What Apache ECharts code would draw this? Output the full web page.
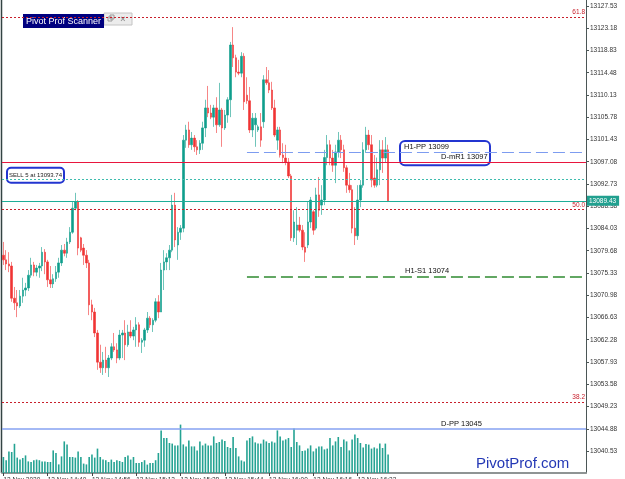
<!DOCTYPE html>
<html>
<head>
<meta charset="utf-8">
<title>Pivot Prof Scanner</title>
<script src="https://cdn.jsdelivr.net/npm/echarts@6/dist/echarts.min.js"></script>
<style>
  html, body { margin: 0; padding: 0; background: #fff; }
  #chart { width: 625px; height: 479px; }
</style>
</head>
<body>
<div id="chart"></div>
<script>
'use strict';

// ---- price data (1 min bars) ----
const opens = [
    13078.8, 13077.9, 13077.1, 13076.7, 13070.4, 13069.5, 13068.9, 13070.8, 13072.0, 13072.4,
    13074.9, 13076.9, 13075.5, 13076.3, 13076.7, 13079.4, 13077.5, 13074.0, 13073.2, 13074.2,
    13075.5, 13077.3, 13079.8, 13079.2, 13081.4, 13083.3, 13088.0, 13089.2, 13082.2, 13080.2,
    13078.8, 13077.3, 13069.1, 13067.7, 13063.6, 13057.9, 13056.8, 13058.3, 13056.8, 13058.7,
    13060.9, 13060.3, 13058.7, 13063.2, 13063.6, 13061.3, 13063.8, 13063.0, 13064.2, 13065.2,
    13061.8, 13062.2, 13064.2, 13066.5, 13065.2, 13066.1, 13069.7, 13067.7, 13075.9, 13077.5,
    13078.3, 13079.8, 13088.6, 13080.8, 13083.3, 13084.1, 13101.3, 13103.3, 13100.4, 13101.7,
    13100.0, 13099.4, 13100.7, 13103.7, 13107.6, 13106.6, 13105.8, 13107.6, 13104.3, 13107.2,
    13103.7, 13106.2, 13109.2, 13119.9, 13117.4, 13114.6, 13114.4, 13117.7, 13110.1, 13109.0,
    13103.3, 13104.3, 13103.3, 13103.9, 13104.9, 13113.1, 13112.5, 13111.1, 13107.6, 13101.3,
    13103.3, 13098.4, 13097.8, 13097.0, 13094.3, 13082.2, 13083.7, 13084.7, 13083.7, 13080.4,
    13080.8, 13085.3, 13087.3, 13084.1, 13090.6, 13088.6, 13089.6, 13097.9, 13100.4, 13097.8,
    13096.4, 13099.0, 13101.3, 13099.4, 13095.9, 13092.5, 13091.6, 13084.1, 13082.6, 13089.6,
    13092.5, 13099.4, 13102.3, 13100.4, 13093.9, 13092.5, 13095.5, 13099.4, 13097.8, 13099.4
];
const closes = [
    13077.9, 13077.1, 13076.7, 13070.4, 13069.5, 13068.9, 13070.8, 13072.0, 13072.4, 13074.9,
    13076.9, 13075.5, 13076.3, 13076.7, 13079.4, 13077.5, 13074.0, 13073.2, 13074.2, 13075.5,
    13077.3, 13079.8, 13079.2, 13081.4, 13083.3, 13088.0, 13089.2, 13080.2, 13079.8, 13078.8,
    13077.3, 13069.1, 13067.7, 13063.6, 13057.9, 13056.8, 13058.3, 13056.8, 13058.7, 13060.9,
    13060.3, 13058.7, 13063.2, 13063.6, 13061.3, 13063.8, 13063.0, 13064.2, 13065.2, 13061.8,
    13062.2, 13064.2, 13066.5, 13065.2, 13066.1, 13069.7, 13067.7, 13075.9, 13077.5, 13078.3,
    13079.8, 13088.6, 13081.8, 13083.3, 13084.1, 13101.3, 13103.3, 13100.4, 13101.7, 13100.0,
    13099.4, 13100.7, 13103.7, 13107.6, 13106.6, 13105.8, 13107.6, 13104.3, 13107.2, 13103.7,
    13106.2, 13109.2, 13119.9, 13117.4, 13114.6, 13114.4, 13117.7, 13108.8, 13109.0, 13103.3,
    13105.6, 13105.6, 13103.9, 13101.3, 13113.1, 13112.5, 13111.1, 13107.6, 13102.3, 13103.3,
    13098.4, 13097.9, 13097.0, 13094.3, 13082.2, 13085.3, 13084.7, 13083.7, 13080.4, 13079.4,
    13085.3, 13089.6, 13083.7, 13090.6, 13087.6, 13089.6, 13097.9, 13100.4, 13097.8, 13096.4,
    13099.0, 13101.3, 13099.4, 13095.9, 13092.5, 13091.6, 13084.1, 13082.6, 13089.6, 13092.5,
    13099.4, 13102.3, 13100.4, 13093.5, 13092.5, 13095.5, 13099.4, 13097.8, 13099.4, 13089.43
];
const lows = [
    13076.9, 13075.9, 13075.5, 13069.7, 13068.1, 13066.7, 13068.5, 13069.5, 13070.8, 13071.8,
    13074.4, 13074.7, 13074.7, 13074.4, 13075.7, 13075.1, 13072.6, 13072.4, 13072.4, 13073.6,
    13074.4, 13076.7, 13078.6, 13078.3, 13081.0, 13083.0, 13087.6, 13078.8, 13079.4, 13076.9,
    13076.3, 13067.1, 13066.1, 13062.8, 13056.4, 13055.8, 13055.4, 13055.8, 13055.0, 13058.3,
    13059.9, 13057.7, 13058.3, 13058.7, 13058.3, 13060.9, 13062.6, 13062.2, 13060.9, 13060.9,
    13059.7, 13060.9, 13063.6, 13064.6, 13063.8, 13065.7, 13066.5, 13067.7, 13072.0, 13075.9,
    13075.9, 13079.4, 13080.4, 13077.9, 13081.8, 13083.3, 13099.8, 13099.8, 13099.4, 13099.0,
    13098.4, 13098.6, 13099.4, 13101.9, 13105.8, 13105.4, 13103.9, 13102.7, 13103.9, 13100.0,
    13103.3, 13104.7, 13105.8, 13115.6, 13113.6, 13114.0, 13113.6, 13107.2, 13108.4, 13102.7,
    13101.9, 13100.0, 13102.9, 13100.0, 13103.7, 13112.1, 13110.5, 13107.2, 13101.9, 13099.4,
    13097.9, 13096.8, 13096.4, 13093.9, 13081.6, 13081.4, 13080.8, 13083.3, 13079.8, 13077.5,
    13080.2, 13084.1, 13082.8, 13083.7, 13086.3, 13086.7, 13088.6, 13096.4, 13096.4, 13095.1,
    13092.9, 13097.9, 13097.8, 13095.1, 13091.0, 13091.0, 13083.1, 13080.8, 13081.8, 13088.2,
    13092.0, 13098.8, 13099.4, 13092.1, 13092.0, 13092.1, 13092.5, 13094.9, 13097.0, 13089.2
];
const highs = [
    13081.4, 13079.8, 13079.4, 13077.5, 13072.6, 13072.0, 13072.0, 13074.4, 13073.4, 13075.9,
    13078.3, 13077.5, 13076.9, 13077.3, 13080.4, 13080.0, 13077.9, 13076.7, 13075.1, 13076.7,
    13078.3, 13080.8, 13081.0, 13082.2, 13084.3, 13089.2, 13091.0, 13089.6, 13082.4, 13081.0,
    13079.8, 13077.9, 13070.1, 13068.5, 13064.2, 13061.3, 13059.9, 13060.9, 13059.3, 13061.6,
    13063.6, 13061.6, 13064.2, 13064.2, 13066.1, 13065.2, 13066.1, 13064.8, 13066.7, 13065.7,
    13062.6, 13064.6, 13067.7, 13066.9, 13066.5, 13070.4, 13071.0, 13077.3, 13079.8, 13079.2,
    13080.8, 13090.6, 13091.0, 13084.3, 13084.7, 13102.3, 13104.3, 13104.9, 13102.9, 13102.3,
    13101.3, 13101.3, 13104.9, 13109.2, 13111.9, 13108.2, 13108.2, 13109.7, 13112.5, 13107.6,
    13107.2, 13109.7, 13120.5, 13123.4, 13118.0, 13117.0, 13118.5, 13118.3, 13113.6, 13111.7,
    13106.6, 13106.6, 13104.3, 13106.6, 13114.0, 13115.6, 13115.0, 13112.7, 13109.2, 13103.9,
    13103.9, 13100.7, 13100.4, 13097.8, 13094.7, 13087.6, 13088.2, 13086.3, 13084.7, 13083.3,
    13089.2, 13090.2, 13087.6, 13092.0, 13094.1, 13092.5, 13099.4, 13102.3, 13101.3, 13099.4,
    13100.4, 13102.9, 13102.3, 13100.4, 13096.4, 13094.9, 13092.5, 13088.2, 13092.5, 13093.5,
    13100.9, 13103.9, 13103.3, 13102.3, 13098.4, 13097.9, 13101.3, 13101.3, 13101.9, 13100.4
];
// tick volumes
const volumes = [
    80, 64, 108, 105, 146, 77, 67, 75, 88, 58,
    55, 64, 67, 64, 58, 58, 55, 55, 113, 100,
    43, 83, 158, 143, 80, 80, 77, 108, 80, 47,
    43, 80, 93, 77, 122, 80, 67, 64, 55, 67,
    55, 64, 60, 55, 80, 88, 67, 80, 50, 50,
    55, 64, 42, 50, 50, 64, 100, 213, 175, 175,
    150, 147, 138, 138, 242, 143, 133, 163, 133, 133,
    113, 158, 138, 147, 138, 138, 183, 150, 155, 167,
    160, 130, 125, 180, 125, 83, 63, 58, 163, 175,
    183, 153, 147, 147, 167, 158, 150, 158, 152, 213,
    183, 163, 168, 175, 130, 222, 155, 138, 110, 113,
    122, 138, 108, 122, 133, 133, 118, 122, 175, 138,
    158, 180, 130, 168, 158, 113, 168, 192, 175, 150,
    128, 145, 142, 122, 128, 123, 147, 125, 147, 93
];

// axis labels
const timeTicks = ['12 Nov 2020', '12 Nov 14:40', '12 Nov 14:56', '12 Nov 15:12', '12 Nov 15:28',
    '12 Nov 15:44', '12 Nov 16:00', '12 Nov 16:16', '12 Nov 16:32'];
const priceTicks = [13040.53, 13044.88, 13049.23, 13053.58, 13057.93, 13062.28, 13066.63,
    13070.98, 13075.33, 13079.68, 13084.03, 13088.38, 13092.73, 13097.08, 13101.43,
    13105.78, 13110.13, 13114.48, 13118.83, 13123.18, 13127.53];

// levels
const fibNames = ['61.8', '50.0', '38.2'];
const fibValues = [13125.38, 13087.75, 13050.11];
const dayPP = 13044.8;
const dayMR1 = 13097;
const h1PP = 13099;
const h1S1 = 13074.5;
const sellPrice = 13093.74;
const lastPrice = 13089.43;

const FONT = 'Liberation Sans, Arial, sans-serif';
const SLOTS = 211;      // bars that fit in the window (chart shift on the right)
const H1_START = 88;    // bar where hourly pivots start

// category names: one minute per bar from 14:24
let categories = [];
for (let i = 0; i < SLOTS; i++) {
    let m = 14 * 60 + 24 + i;
    categories.push(String(Math.floor(m / 60)).padStart(2, '0') + ':' + String(m % 60).padStart(2, '0'));
}

let candles = opens.map(function(o, i) {
    return [o, closes[i], lows[i], highs[i]];
});

let showTick = function(idx) {
    return idx % 16 === 0 && idx / 16 < timeTicks.length;
};

// one helper series per level style, so each keeps its own colour
let levelSeries = function(name, data, lineStyle, label) {
    return {
        name: name,
        type: 'line',
        xAxisIndex: 0,
        yAxisIndex: 0,
        data: [],
        silent: true,
        z: 3,
        markLine: {
            symbol: 'none',
            silent: true,
            animation: false,
            precision: 2,
            lineStyle: Object.assign({ opacity: 1 }, lineStyle),
            label: label || { show: false },
            emphasis: { disabled: true },
            data: data
        }
    };
};

let chart = echarts.init(document.getElementById('chart'));

let option = {
    animation: false,
    backgroundColor: '#fff',
    grid: [
        { left: 2, right: 39, top: 0, bottom: 6, outerBoundsMode: 'none', containLabel: false },
        { left: 2, right: 39, top: 373, bottom: 6, outerBoundsMode: 'none', containLabel: false }
    ],
    xAxis: [{
        type: 'category',
        data: categories,
        gridIndex: 0,
        boundaryGap: true,
        axisLine: { lineStyle: { color: '#8f9494', width: 2 } },
        axisTick: { show: true, interval: showTick, alignWithLabel: true, length: 3, lineStyle: { color: '#444' } },
        axisLabel: {
            interval: showTick,
            formatter: function(v, idx) { return timeTicks[idx / 16] || ''; },
            align: 'left',
            margin: 4,
            fontSize: 6.5,
            fontFamily: FONT,
            color: '#333'
        },
        splitLine: { show: false }
    }, {
        type: 'category',
        data: categories,
        gridIndex: 1,
        show: false
    }],
    yAxis: [{
        type: 'value',
        gridIndex: 0,
        position: 'right',
        min: 13036.23,
        max: 13128.70,
        axisLine: { show: true, lineStyle: { color: '#4b5656', width: 1 } },
        axisTick: { show: true, customValues: priceTicks, length: 3, lineStyle: { color: '#4b5656' } },
        axisLabel: {
            customValues: priceTicks,
            formatter: function(v) { return v.toFixed(2); },
            margin: 4,
            fontSize: 6.5,
            fontFamily: FONT,
            color: '#333'
        },
        splitLine: { show: false }
    }, {
        type: 'value',
        gridIndex: 1,
        min: 0,
        max: 500,
        show: false
    }],
    series: [{
        type: 'bar',
        xAxisIndex: 1,
        yAxisIndex: 1,
        data: volumes,
        barWidth: 1.6,
        itemStyle: { color: '#25a393' },
        silent: true
    },
    levelSeries('fib', fibValues.map(function(v, i) {
        return { yAxis: v, label: { formatter: fibNames[i] } };
    }), { color: '#c8202c', type: [2, 2], width: 1 }, {
        show: true, position: 'insideEndTop', distance: 1,
        color: '#c8202c', fontSize: 6.5, fontFamily: FONT
    }),
    levelSeries('D-mR1', [{ yAxis: dayMR1 }], { color: '#e8163e', type: 'solid', width: 1 }),
    levelSeries('sell', [{ yAxis: sellPrice }], { color: '#3fbcae', type: [2, 2], width: 1 }),
    levelSeries('D-PP', [{ yAxis: dayPP }], { color: '#86a2f2', type: 'solid', width: 1.5 }),
    levelSeries('H1-PP', [[{ coord: [categories[H1_START], h1PP] }, { coord: [categories[SLOTS - 1], h1PP] }]],
        { color: '#7d9cf0', type: [12, 5], width: 1.2 }),
    levelSeries('H1-S1', [[{ coord: [categories[H1_START], h1S1] }, { coord: [categories[SLOTS - 1], h1S1] }]],
        { color: '#2f8a30', type: [12, 5], width: 1.5 }),
    {
        type: 'candlestick',
        xAxisIndex: 0,
        yAxisIndex: 0,
        data: candles,
        barWidth: 2,
        itemStyle: {
            color: '#0f9e8c',
            color0: '#f03434',
            borderColor: '#0f9e8c',
            borderColor0: '#f03434',
            borderWidth: 0.6
        },
        silent: true
    },
    levelSeries('last', [{ yAxis: lastPrice }], { color: '#1fae98', type: 'solid', width: 1.2 }, {
        show: true, position: 'end', distance: 1,
        formatter: lastPrice.toFixed(2),
        backgroundColor: '#21a08f', color: '#fff',
        padding: [2, 3, 1, 2], fontSize: 6.5, fontFamily: FONT
    })]
};

chart.setOption(option);

//=============注释与面板================
let yPx = function(v) {
    return chart.convertToPixel({ yAxisIndex: 0 }, v);
};

chart.setOption({
    graphic: [
        // left border of the window
        { type: 'line', shape: { x1: 1.5, y1: 0, x2: 1.5, y2: 473 }, style: { stroke: '#334343', lineWidth: 1.5 } },
        // hourly pivot box
        {
            type: 'rect',
            shape: { x: 400, y: yPx(h1PP) - 11, width: 90, height: yPx(dayMR1) - yPx(h1PP) + 14, r: 5 },
            style: { fill: 'rgba(0,0,0,0)', stroke: '#2335d0', lineWidth: 2 }
        },
        { type: 'text', x: 404, y: yPx(h1PP) - 1, style: { text: 'H1-PP 13099', font: '7.5px ' + FONT, fill: '#111', textVerticalAlign: 'bottom' } },
        { type: 'text', x: 441, y: yPx(dayMR1) - 1, style: { text: 'D-mR1 13097', font: '7.5px ' + FONT, fill: '#111', textVerticalAlign: 'bottom' } },
        // sell order box
        {
            type: 'rect',
            shape: { x: 7, y: yPx(sellPrice) - 11, width: 57, height: 15, r: 4 },
            style: { fill: '#fff', stroke: '#2335d0', lineWidth: 2 }
        },
        { type: 'text', x: 9, y: yPx(sellPrice) - 3.5, style: { text: 'SELL 5 at 13093.74', font: '6px ' + FONT, fill: '#222', textVerticalAlign: 'middle' } },
        { type: 'text', x: 405, y: yPx(h1S1) - 2, style: { text: 'H1-S1 13074', font: '7.5px ' + FONT, fill: '#111', textVerticalAlign: 'bottom' } },
        { type: 'text', x: 441, y: yPx(dayPP) - 1.5, style: { text: 'D-PP 13045', font: '7.5px ' + FONT, fill: '#111', textVerticalAlign: 'bottom' } },
        // watermark
        { type: 'text', x: 476, y: 464, style: { text: 'PivotProf.com', font: '15px ' + FONT, fill: '#2438b5', textVerticalAlign: 'middle' } },
        // scanner panel title
        { type: 'rect', shape: { x: 104, y: 13, width: 28, height: 12 }, style: { fill: '#ececec', stroke: '#c4c4c4', lineWidth: 1 } },
        { type: 'rect', shape: { x: 23, y: 14, width: 81, height: 14 }, style: { fill: '#00007f' } },
        { type: 'text', x: 26, y: 21.5, style: { text: 'Pivot Prof Scanner', font: '9px ' + FONT, fill: '#fff', textVerticalAlign: 'middle' } },
        { type: 'rect', shape: { x: 108, y: 17, width: 4, height: 4 }, style: { fill: 'none', stroke: '#999', lineWidth: 1 } },
        { type: 'rect', shape: { x: 110, y: 15, width: 4, height: 4 }, style: { fill: 'none', stroke: '#999', lineWidth: 1 } },
        { type: 'text', x: 123, y: 19.5, style: { text: '×', font: 'bold 9px ' + FONT, fill: '#999', textAlign: 'center', textVerticalAlign: 'middle' } }
    ]
});
</script>
</body>
</html>
